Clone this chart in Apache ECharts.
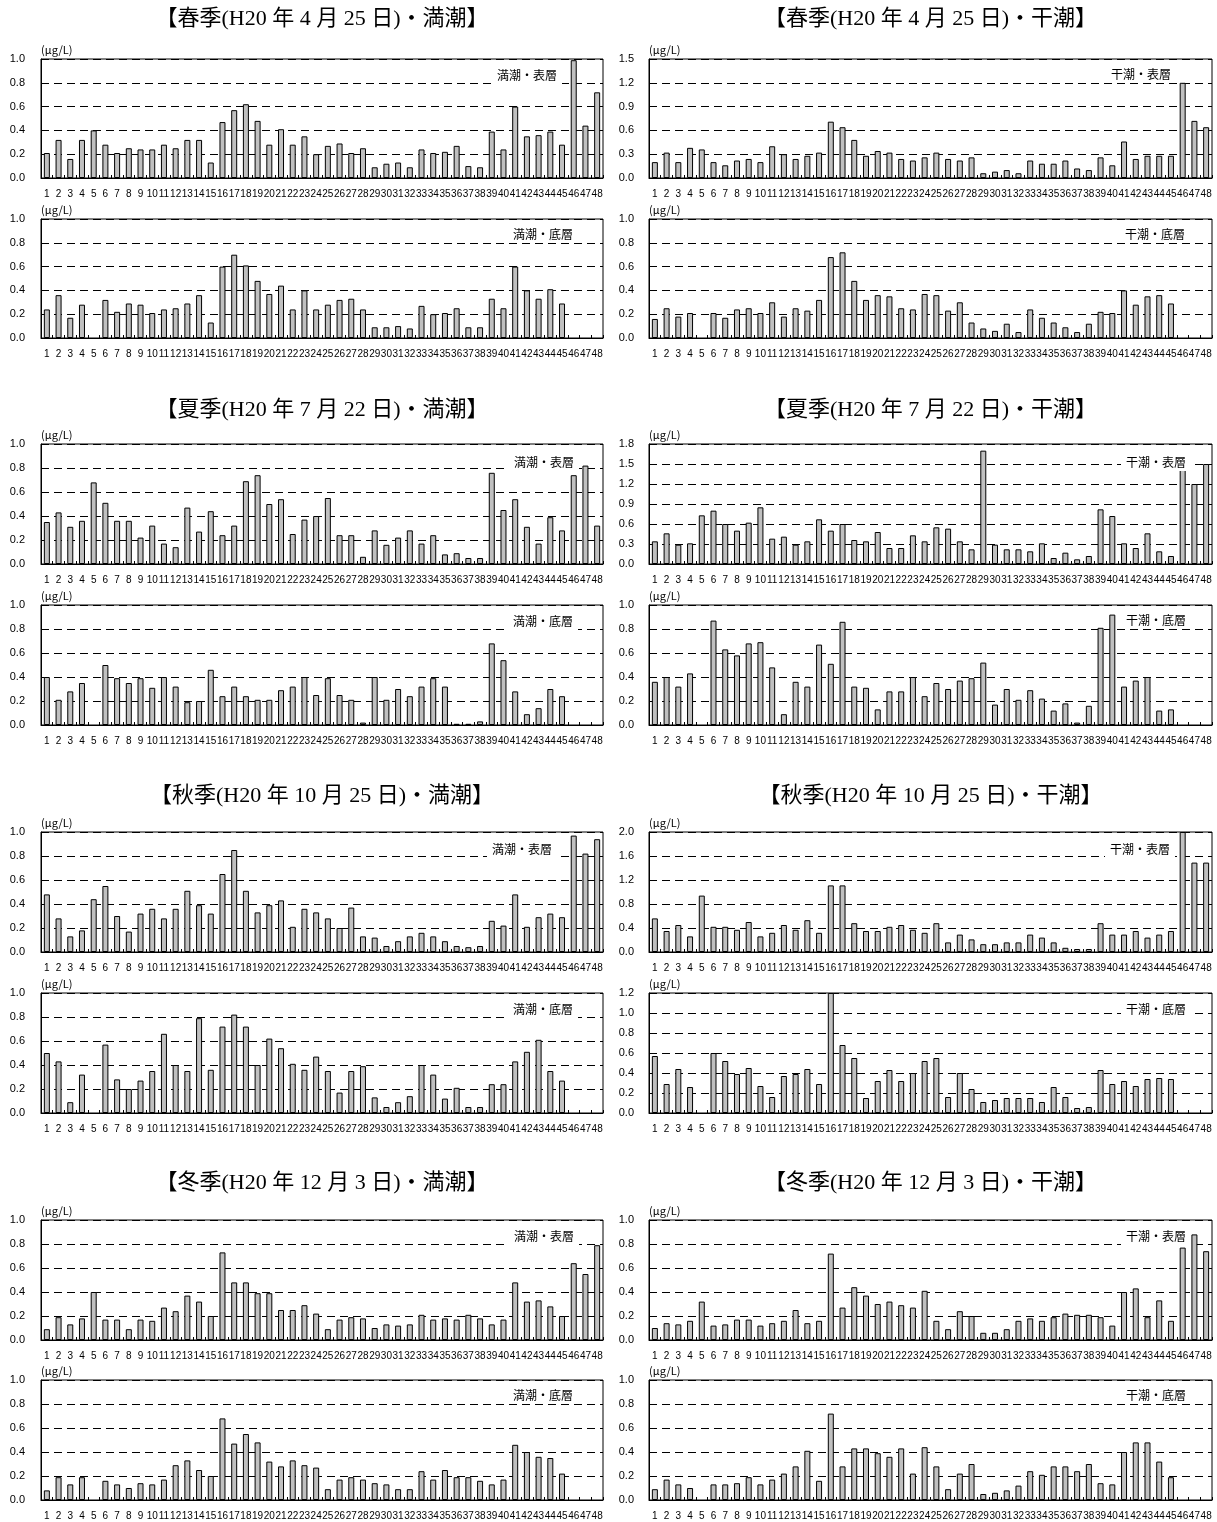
<!DOCTYPE html>
<html>
<head>
<meta charset="utf-8">
<script src="https://cdn.jsdelivr.net/npm/echarts@6/dist/echarts.min.js"></script>
<style>
html,body{margin:0;padding:0;background:#fff;}
#chart{width:1217px;height:1522px;}
</style>
</head>
<body>
<div id="chart"></div>
<script>
// ---------- data ----------
const categories = ['1','2','3','4','5','6','7','8','9','10','11','12','13','14','15','16','17','18','19','20','21','22','23','24','25','26','27','28','29','30','31','32','33','34','35','36','37','38','39','40','41','42','43','44','45','46','47','48'];

const seasonTitles = [
  '【春季(H20 年 4 月 25 日)・満潮】', '【春季(H20 年 4 月 25 日)・干潮】',
  '【夏季(H20 年 7 月 22 日)・満潮】', '【夏季(H20 年 7 月 22 日)・干潮】',
  '【秋季(H20 年 10 月 25 日)・満潮】', '【秋季(H20 年 10 月 25 日)・干潮】',
  '【冬季(H20 年 12 月 3 日)・満潮】', '【冬季(H20 年 12 月 3 日)・干潮】'
];
const panelLabels = ['満潮・表層', '満潮・底層', '干潮・表層', '干潮・底層'];
const unitLabel = '(μg/L)';

const springHighSurface = [0.21,0.32,0.16,0.32,0.40,0.28,0.21,0.25,0.24,0.24, 0.28,0.25,0.32,0.32,0.13,0.47,0.57,0.62,0.48,0.28, 0.41,0.28,0.35,0.20,0.27,0.29,0.21,0.25,0.09,0.12, 0.13,0.09,0.24,0.21,0.22,0.27,0.10,0.09,0.39,0.24, 0.60,0.35,0.36,0.39,0.28,0.99,0.44,0.72];
const springHighBottom = [0.24,0.36,0.17,0.28,null,0.32,0.22,0.29,0.28,0.21, 0.24,0.25,0.29,0.36,0.13,0.60,0.70,0.61,0.48,0.37, 0.44,0.24,0.40,0.24,0.28,0.32,0.33,0.24,0.09,0.09, 0.10,0.08,0.27,0.20,0.21,0.25,0.09,0.09,0.33,0.25, 0.60,0.40,0.33,0.41,0.29,null,null,null];
const springLowSurface = [0.20,0.32,0.20,0.38,0.36,0.20,0.16,0.22,0.24,0.20, 0.40,0.30,0.24,0.28,0.32,0.71,0.64,0.48,0.28,0.34, 0.32,0.24,0.22,0.26,0.32,0.24,0.22,0.26,0.06,0.08, 0.10,0.06,0.22,0.18,0.18,0.22,0.12,0.10,0.26,0.16, 0.46,0.24,0.28,0.28,0.28,1.20,0.72,0.64];
const springLowBottom = [0.16,0.25,0.18,0.21,null,0.21,0.17,0.24,0.25,0.21, 0.30,0.18,0.25,0.23,0.32,0.68,0.72,0.48,0.32,0.36, 0.35,0.25,0.24,0.37,0.36,0.23,0.30,0.13,0.08,0.06, 0.12,0.05,0.24,0.17,0.13,0.09,0.05,0.12,0.22,0.21, 0.40,0.28,0.35,0.36,0.29,null,null,null];

const summerHighSurface = [0.35,0.43,0.31,0.36,0.68,0.51,0.36,0.36,0.22,0.32, 0.17,0.14,0.47,0.27,0.44,0.24,0.32,0.69,0.74,0.50, 0.54,0.25,0.37,0.40,0.55,0.24,0.24,0.06,0.28,0.16, 0.22,0.28,0.17,0.24,0.08,0.09,0.05,0.05,0.76,0.45, 0.54,0.31,0.17,0.39,0.28,0.74,0.82,0.32];
const summerHighBottom = [0.40,0.21,0.28,0.35,null,0.50,0.39,0.35,0.39,0.31, 0.40,0.32,0.19,0.20,0.46,0.24,0.32,0.24,0.21,0.21, 0.29,0.32,0.40,0.25,0.39,0.25,0.21,0.02,0.40,0.21, 0.30,0.24,0.32,0.39,0.32,0.01,0.01,0.03,0.68,0.54, 0.28,0.09,0.14,0.30,0.24,null,null,null];
const summerLowSurface = [0.34,0.46,0.29,0.31,0.73,0.80,0.60,0.50,0.62,0.85, 0.38,0.41,0.29,0.34,0.67,0.50,0.60,0.36,0.34,0.48, 0.24,0.24,0.43,0.34,0.55,0.53,0.34,0.22,1.70,0.29, 0.22,0.22,0.19,0.31,0.09,0.17,0.07,0.12,0.82,0.72, 0.31,0.24,0.46,0.19,0.12,1.41,1.20,1.50];
const summerLowBottom = [0.36,0.40,0.32,0.43,null,0.87,0.63,0.58,0.68,0.69, 0.48,0.09,0.36,0.32,0.67,0.51,0.86,0.32,0.31,0.13, 0.28,0.28,0.40,0.24,0.35,0.30,0.37,0.39,0.52,0.17, 0.30,0.21,0.29,0.22,0.12,0.18,0.02,0.16,0.81,0.92, 0.32,0.37,0.40,0.12,0.13,null,null,null];

const autumnHighSurface = [0.48,0.28,0.13,0.18,0.44,0.55,0.30,0.17,0.32,0.36, 0.28,0.36,0.51,0.39,0.32,0.65,0.85,0.51,0.33,0.39, 0.43,0.21,0.36,0.33,0.28,0.20,0.37,0.13,0.12,0.05, 0.09,0.13,0.16,0.13,0.09,0.05,0.04,0.05,0.26,0.22, 0.48,0.21,0.29,0.32,0.29,0.97,0.82,0.94];
const autumnHighBottom = [0.50,0.43,0.09,0.32,null,0.57,0.28,0.20,0.27,0.35, 0.66,0.40,0.35,0.79,0.36,0.72,0.82,0.72,0.40,0.62, 0.54,0.41,0.36,0.47,0.35,0.17,0.35,0.39,0.13,0.05, 0.09,0.14,0.40,0.32,0.12,0.21,0.05,0.05,0.24,0.24, 0.43,0.51,0.61,0.35,0.27,null,null,null];
const autumnLowSurface = [0.56,0.35,0.45,0.26,0.94,0.42,0.42,0.37,0.50,0.26, 0.32,0.45,0.37,0.53,0.32,1.11,1.11,0.48,0.35,0.35, 0.42,0.45,0.37,0.32,0.48,0.16,0.29,0.21,0.13,0.13, 0.16,0.16,0.29,0.24,0.16,0.07,0.05,0.05,0.48,0.29, 0.29,0.35,0.24,0.29,0.35,2.00,1.49,1.49];
const autumnLowBottom = [0.57,0.29,0.44,0.26,null,0.60,0.52,0.39,0.45,0.27, 0.16,0.37,0.39,0.44,0.29,1.20,0.68,0.55,0.15,0.32, 0.43,0.32,0.40,0.52,0.55,0.16,0.40,0.24,0.11,0.13, 0.15,0.15,0.15,0.11,0.26,0.16,0.05,0.06,0.43,0.29, 0.32,0.27,0.34,0.35,0.34,null,null,null];

const winterHighSurface = [0.09,0.19,0.13,0.18,0.40,0.17,0.17,0.09,0.17,0.16, 0.27,0.24,0.37,0.32,0.20,0.73,0.48,0.48,0.39,0.39, 0.25,0.25,0.29,0.22,0.09,0.17,0.19,0.18,0.10,0.13, 0.12,0.13,0.21,0.17,0.18,0.17,0.21,0.18,0.13,0.17, 0.48,0.32,0.33,0.28,0.20,0.64,0.55,0.79];
const winterHighBottom = [0.08,0.19,0.13,0.19,null,0.16,0.13,0.10,0.14,0.13, 0.17,0.29,0.33,0.25,0.20,0.68,0.47,0.55,0.48,0.32, 0.28,0.33,0.29,0.27,0.09,0.17,0.19,0.17,0.14,0.13, 0.09,0.09,0.24,0.17,0.25,0.19,0.19,0.16,0.13,0.17, 0.46,0.40,0.36,0.35,0.22,null,null,null];
const winterLowSurface = [0.10,0.14,0.13,0.16,0.32,0.12,0.13,0.17,0.17,0.12, 0.14,0.16,0.25,0.14,0.16,0.72,0.27,0.44,0.37,0.30, 0.32,0.29,0.27,0.41,0.16,0.09,0.24,0.20,0.06,0.06, 0.09,0.16,0.18,0.16,0.19,0.22,0.21,0.21,0.19,0.12, 0.40,0.43,0.19,0.33,0.16,0.77,0.88,0.74];
const winterLowBottom = [0.09,0.17,0.13,0.10,null,0.13,0.13,0.14,0.19,0.13, 0.17,0.22,0.28,0.41,0.16,0.72,0.28,0.43,0.43,0.39, 0.36,0.43,0.22,0.44,0.28,0.09,0.22,0.30,0.05,0.06, 0.08,0.12,0.24,0.21,0.28,0.28,0.24,0.30,0.14,0.13, 0.40,0.48,0.48,0.32,0.19,null,null,null];

// y-axis scales (max, interval) per panel
const axisMax = {
  springHighSurface:[1.0,0.2], springHighBottom:[1.0,0.2], springLowSurface:[1.5,0.3], springLowBottom:[1.0,0.2],
  summerHighSurface:[1.0,0.2], summerHighBottom:[1.0,0.2], summerLowSurface:[1.8,0.3], summerLowBottom:[1.0,0.2],
  autumnHighSurface:[1.0,0.2], autumnHighBottom:[1.0,0.2], autumnLowSurface:[2.0,0.4], autumnLowBottom:[1.2,0.2],
  winterHighSurface:[1.0,0.2], winterHighBottom:[1.0,0.2], winterLowSurface:[1.0,0.2], winterLowBottom:[1.0,0.2]
};

// ---------- layout ----------
const cols = [{left:41, width:562, margin:16}, {left:649, width:563, margin:15}];
const rowTops = [59, 219, 444, 605, 832, 993, 1220, 1380];
const rowHeights = [119, 119, 120, 120, 120, 120, 120, 120];
const titleY = [19, 410, 796, 1183];
// label positions [x, y] per panel (row, col)
const labelPos = [
  [[492,75],[1106,74]],
  [[508,234],[1120,234]],
  [[509,462],[1121,462]],
  [[508,621],[1121,620]],
  [[487,849],[1105,849]],
  [[508,1009],[1121,1009]],
  [[509,1236],[1121,1236]],
  [[508,1395],[1121,1395]]
];

const panels = [
  // [seriesName, data, rowIndex, colIndex, labelIndex]
  ['springHighSurface', springHighSurface, 0, 0, 0],
  ['springLowSurface', springLowSurface, 0, 1, 2],
  ['springHighBottom', springHighBottom, 1, 0, 1],
  ['springLowBottom', springLowBottom, 1, 1, 3],
  ['summerHighSurface', summerHighSurface, 2, 0, 0],
  ['summerLowSurface', summerLowSurface, 2, 1, 2],
  ['summerHighBottom', summerHighBottom, 3, 0, 1],
  ['summerLowBottom', summerLowBottom, 3, 1, 3],
  ['autumnHighSurface', autumnHighSurface, 4, 0, 0],
  ['autumnLowSurface', autumnLowSurface, 4, 1, 2],
  ['autumnHighBottom', autumnHighBottom, 5, 0, 1],
  ['autumnLowBottom', autumnLowBottom, 5, 1, 3],
  ['winterHighSurface', winterHighSurface, 6, 0, 0],
  ['winterLowSurface', winterLowSurface, 6, 1, 2],
  ['winterHighBottom', winterHighBottom, 7, 0, 1],
  ['winterLowBottom', winterLowBottom, 7, 1, 3]
];

const grid = [], xAxis = [], yAxis = [], series = [], graphic = [];
panels.forEach((p, i) => {
  const [name, data, row, col, li] = p;
  const c = cols[col];
  const [max, interval] = axisMax[name];
  grid.push({left:c.left, width:c.width, top:rowTops[row], height:rowHeights[row],
    show:true, borderColor:'#000', borderWidth:1, backgroundColor:'#fff'});
  xAxis.push({type:'category', gridIndex:i, data:categories, boundaryGap:true,
    axisLine:{show:true, lineStyle:{color:'#000', width:1}},
    axisTick:{show:true, inside:true, length:3, lineStyle:{color:'#000'}},
    axisLabel:{interval:0, margin:11, fontSize:10, color:'#000', fontFamily:'"Liberation Sans", Arial, sans-serif', hideOverlap:false},
    splitLine:{show:false}});
  yAxis.push({type:'value', gridIndex:i, min:0, max:max, interval:interval,
    name:unitLabel, nameLocation:'end', nameGap:4,
    nameTextStyle:{align:'left', verticalAlign:'bottom', fontSize:11, color:'#000', fontFamily:'"Noto Sans CJK JP", sans-serif', padding:[0,0,0,0]},
    axisLine:{show:true, lineStyle:{color:'#000', width:1}},
    axisTick:{show:false},
    axisLabel:{margin:c.margin, fontSize:11, color:'#000', fontFamily:'"Liberation Sans", Arial, sans-serif', formatter:v => v.toFixed(1)},
    splitLine:{show:true, lineStyle:{color:'#000', width:1, type:[8,5]}}});
  series.push({type:'bar', name:name, xAxisIndex:i, yAxisIndex:i, data:data, barWidth:6,
    itemStyle:{color:'#c0c0c0', borderColor:'#000', borderWidth:1}, animation:false, silent:true});
  const lp = labelPos[row][col];
  graphic.push({type:'text', x:lp[0], y:lp[1], z:100,
    style:{text:panelLabels[li], fill:'#000', font:'12px "Noto Sans CJK JP", sans-serif',
      backgroundColor:'#fff', padding:[3,5], align:'left', verticalAlign:'middle'}});
});

titleY.forEach((y, r) => {
  [0,1].forEach(col => {
    const c = cols[col];
    graphic.push({type:'text', x:c.left + c.width/2, y:y, z:100,
      style:{text:seasonTitles[r*2+col], fill:'#000', font:'22px "Liberation Serif", "Noto Sans CJK JP", serif',
        align:'center', verticalAlign:'middle'}});
  });
});

const chart = echarts.init(document.getElementById('chart'), null, {renderer:'canvas'});
chart.setOption({animation:false, grid, xAxis, yAxis, series, graphic});
</script>
</body>
</html>
